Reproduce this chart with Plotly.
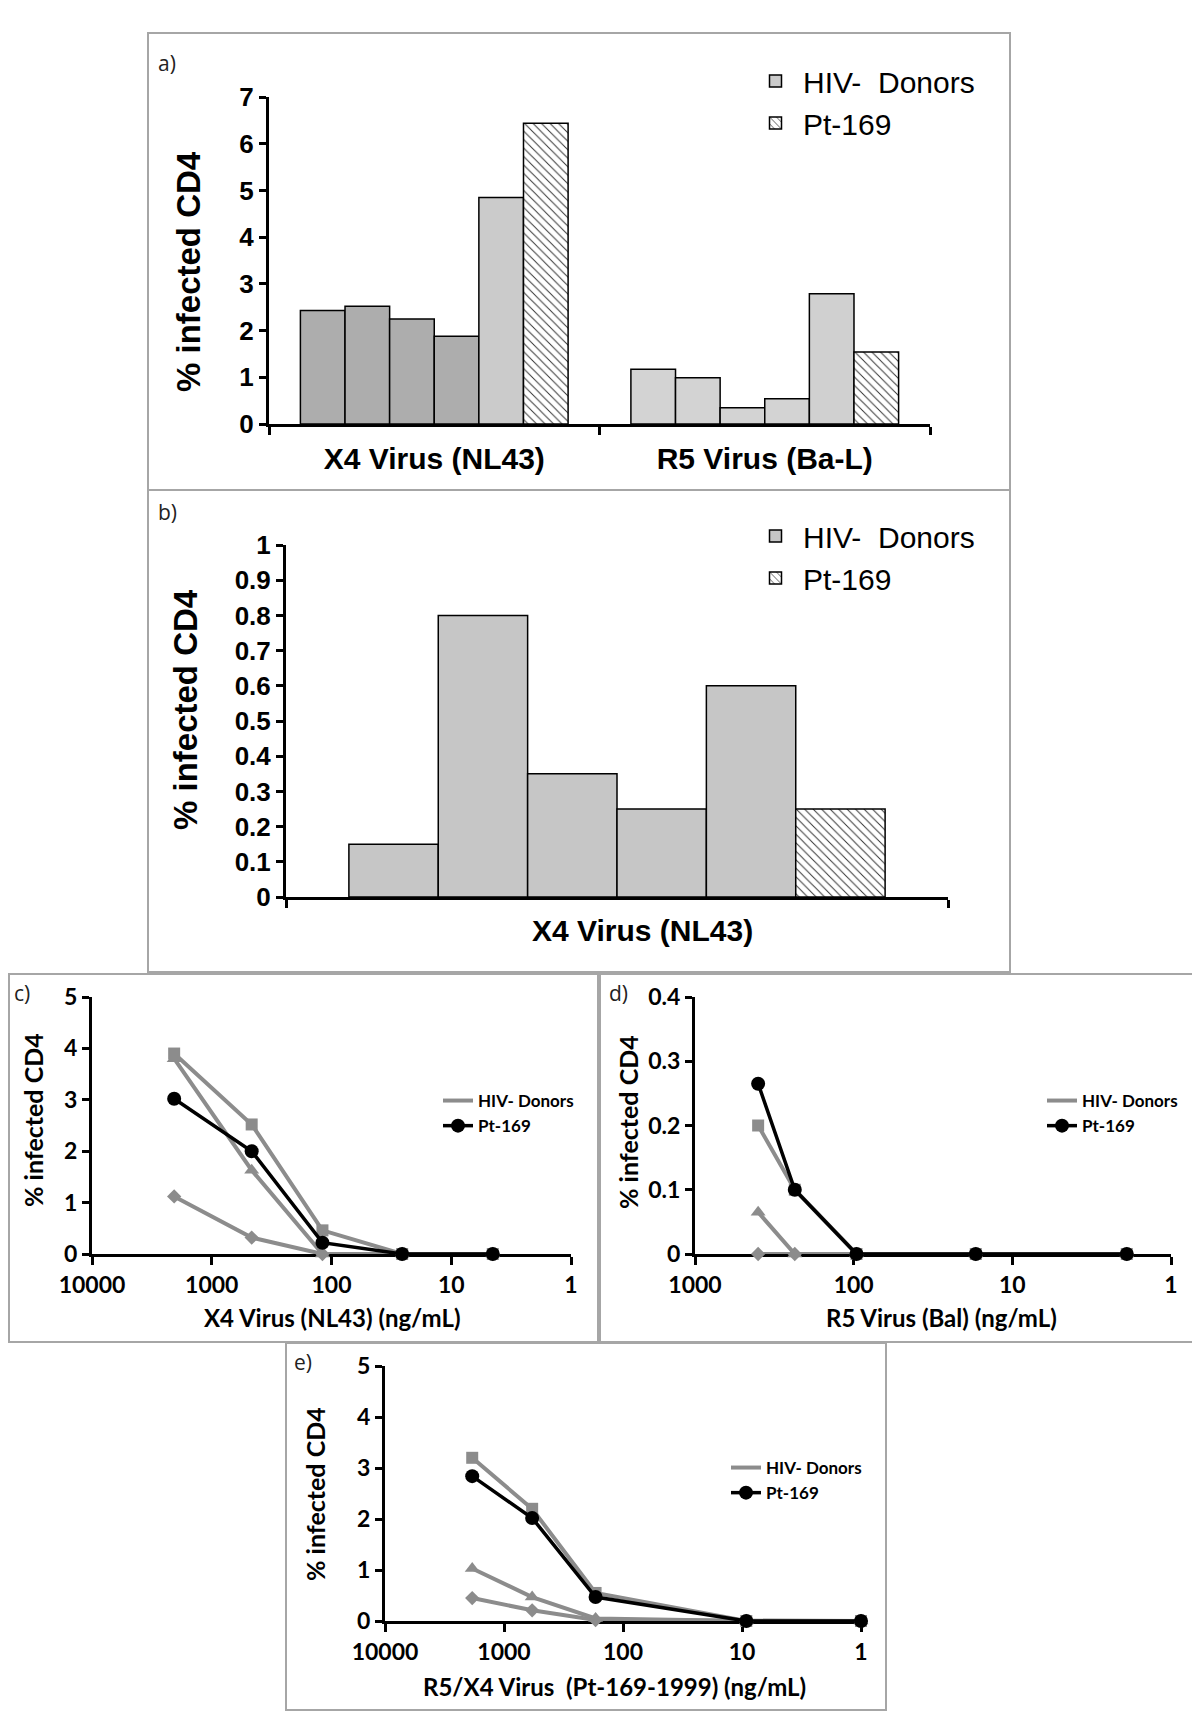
import plotly.graph_objects as go

W, H = 1200, 1735
OFF = 8  # page body margin compensation
def px(x): return (x - OFF) / W
def py(y): return 1 - (y - OFF) / H

# ---------------- data ----------------
# Panel a
a_categories = ["X4 Virus (NL43)", "R5 Virus (Ba-L)"]
a_donor1 = [2.43, 1.17]
a_donor2 = [2.52, 0.99]
a_donor3 = [2.25, 0.35]
a_donor4 = [1.88, 0.54]
a_donor5 = [4.85, 2.79]
a_pt169 = [6.44, 1.54]

# Panel b
b_categories = ["X4 Virus (NL43)"]
b_donor1 = [0.15]
b_donor2 = [0.80]
b_donor3 = [0.35]
b_donor4 = [0.25]
b_donor5 = [0.60]
b_pt169 = [0.25]

# Panel c
c_conc = [2060, 464, 119, 25.7, 4.5]
c_donor_sq = [3.90, 2.52, 0.46, 0, 0]
c_donor_tri = [3.80, 1.63, 0, 0, 0]
c_donor_dia = [1.12, 0.32, 0, 0, 0]
c_pt169 = [3.02, 2.00, 0.22, 0, 0]

# Panel d
d_conc = [400, 235, 96, 17, 1.9]
d_donor_sq = [0.20, 0.10, 0, 0, 0]
d_donor_tri = [0.065, 0, 0, 0, 0]
d_donor_dia = [0, 0, 0, 0, 0]
d_pt169 = [0.265, 0.10, 0, 0, 0]

# Panel e
e_conc = [1850, 580, 170, 9.2, 1.0]
e_donor_sq = [3.20, 2.20, 0.55, 0, 0]
e_donor_tri = [1.03, 0.47, 0.05, 0, 0]
e_donor_dia = [0.45, 0.21, 0.02, 0, 0]
e_pt169 = [2.84, 2.02, 0.47, 0, 0]

log_tickvals = [10000, 1000, 100, 10, 1]
log_ticktext = ["10000", "1000", "100", "10", "1"]
d_tickvals = [1000, 100, 10, 1]
d_ticktext = ["1000", "100", "10", "1"]

# ---------------- styles ----------------
NARROW = "Liberation Sans Narrow, Arial Narrow, Liberation Sans, Arial"
ARIAL = "Liberation Sans, Arial"
CAL = "Lato, Carlito, Open Sans"
GRAY = "#8c8c8c"

fig = go.Figure()

def pt_marker():
    return dict(color="white",
                pattern=dict(shape="\\", fgcolor="#333333", bgcolor="white", size=6, solidity=0.16),
                line=dict(color="black", width=1.5))

# ---- Panel a bars ----
a_donors = [a_donor1, a_donor2, a_donor3, a_donor4, a_donor5]
a_cols = [["#adadad", "#d3d3d3"]] * 4 + [["#cbcbcb", "#d0d0d0"]]
for i, vals in enumerate(a_donors):
    fig.add_trace(go.Bar(x=a_categories, y=vals, xaxis="x", yaxis="y",
                         marker=dict(color=a_cols[i], line=dict(color="black", width=1.5)),
                         name="HIV-\u00a0 Donors", legend="legend", legendgroup="a1",
                         showlegend=(i == 4)))
fig.add_trace(go.Bar(x=a_categories, y=a_pt169, xaxis="x", yaxis="y", marker=pt_marker(),
                     name="Pt-169", legend="legend", legendgroup="a2", showlegend=True))

# ---- Panel b bars ----
b_donors = [b_donor1, b_donor2, b_donor3, b_donor4, b_donor5]
for i, vals in enumerate(b_donors):
    fig.add_trace(go.Bar(x=b_categories, y=vals, xaxis="x2", yaxis="y2",
                         marker=dict(color="#c6c6c6", line=dict(color="black", width=1.5)),
                         name="HIV-\u00a0 Donors", legend="legend2", legendgroup="b1",
                         showlegend=(i == 0)))
fig.add_trace(go.Bar(x=b_categories, y=b_pt169, xaxis="x2", yaxis="y2", marker=pt_marker(),
                     name="Pt-169", legend="legend2", legendgroup="b2", showlegend=True))

# ---- Line panels ----
def add_line_panel(conc, sq, tri, dia, pt, xa, ya, leg):
    for vals, sym, size in [(dia, "diamond", 11), (tri, "triangle-up", 13), (sq, "square", 12)]:
        fig.add_trace(go.Scatter(x=conc, y=vals, xaxis=xa, yaxis=ya, mode="lines+markers",
                                 line=dict(color=GRAY, width=4),
                                 marker=dict(symbol=sym, size=size, color=GRAY),
                                 cliponaxis=False, showlegend=False, legend=leg))
    fig.add_trace(go.Scatter(x=[None], y=[None], xaxis=xa, yaxis=ya, mode="lines",
                             line=dict(color=GRAY, width=4), name="HIV- Donors",
                             legend=leg, legendgroup=leg + "g1", showlegend=True))
    fig.add_trace(go.Scatter(x=conc, y=pt, xaxis=xa, yaxis=ya, mode="lines+markers",
                             line=dict(color="black", width=3.5),
                             marker=dict(symbol="circle", size=14, color="black"),
                             cliponaxis=False, name="Pt-169", legend=leg,
                             legendgroup=leg + "g2", showlegend=True))

add_line_panel(c_conc, c_donor_sq, c_donor_tri, c_donor_dia, c_pt169, "x3", "y3", "legend3")
add_line_panel(d_conc, d_donor_sq, d_donor_tri, d_donor_dia, d_pt169, "x4", "y4", "legend4")
add_line_panel(e_conc, e_donor_sq, e_donor_tri, e_donor_dia, e_pt169, "x5", "y5", "legend5")

# ---------------- axes ----------------
def bar_xaxis(x0, x1, anchor, showlabels=True):
    return dict(domain=[px(x0), px(x1)], anchor=anchor, type="category", automargin=False,
                tickson="boundaries", ticks="outside", ticklen=8, tickwidth=3,
                tickcolor="black", showline=True, linecolor="black", linewidth=3,
                showgrid=False, showticklabels=showlabels, ticklabelstandoff=6,
                tickfont=dict(family=ARIAL, size=30, color="black", weight="bold"))

def bar_yaxis(y0, y1, anchor, rng, dtick):
    return dict(domain=[py(y1), py(y0)], anchor=anchor, range=rng, dtick=dtick, automargin=False,
                ticks="outside", ticklen=7, tickwidth=3, tickcolor="black",
                showline=True, linecolor="black", linewidth=3, showgrid=False, zeroline=False,
                tickfont=dict(family=NARROW, size=26, color="black", weight="bold"))

def log_xaxis(x0, x1, anchor, rng, tv, tt):
    return dict(domain=[px(x0), px(x1)], anchor=anchor, type="log", range=rng, automargin=False,
                tickmode="array", tickvals=tv, ticktext=tt,
                ticks="outside", ticklen=8, tickwidth=3, tickcolor="black",
                showline=True, linecolor="black", linewidth=3, showgrid=False,
                zeroline=False, layer="below traces",
                tickfont=dict(family=CAL, size=23, color="black", weight="bold"))

def line_yaxis(y0, y1, anchor, rng, dtick):
    return dict(domain=[py(y1), py(y0)], anchor=anchor, range=rng, dtick=dtick, automargin=False,
                ticks="outside", ticklen=7, tickwidth=3, tickcolor="black",
                showline=True, linecolor="black", linewidth=3, showgrid=False,
                zeroline=False, layer="below traces",
                tickfont=dict(family=CAL, size=23, color="black", weight="bold"))

layout = dict(
    template="none", autosize=False,
    width=W, height=H, margin=dict(l=0, r=0, t=0, b=0, pad=0, autoexpand=False),
    paper_bgcolor="white", plot_bgcolor="rgba(0,0,0,0)",
    barmode="group", bargap=0.19, bargroupgap=0,
    xaxis=bar_xaxis(269, 930, "y"),
    yaxis=bar_yaxis(97, 424, "x", [0, 7], 1),
    xaxis2=bar_xaxis(286, 948, "y2", showlabels=False),
    yaxis2=bar_yaxis(545, 897, "x2", [0, 1], 0.1),
    xaxis3=log_xaxis(92, 571, "y3", [4, 0], log_tickvals, log_ticktext),
    yaxis3=line_yaxis(997, 1254, "x3", [0, 5], 1),
    xaxis4=log_xaxis(695, 1171, "y4", [3, 0], d_tickvals, d_ticktext),
    yaxis4=line_yaxis(997, 1254, "x4", [0, 0.4], 0.1),
    xaxis5=log_xaxis(385, 861, "y5", [4, 0], log_tickvals, log_ticktext),
    yaxis5=line_yaxis(1366, 1621, "x5", [0, 5], 1),
)

def bar_legend(x, y):
    return dict(x=px(x), y=py(y), xanchor="left", yanchor="top", bgcolor="rgba(0,0,0,0)",
                font=dict(family=ARIAL, size=30, color="black"), tracegroupgap=12,
                traceorder="normal", itemwidth=45, borderwidth=0)

def line_legend(x, y):
    return dict(x=px(x), y=py(y), xanchor="left", yanchor="top", bgcolor="rgba(0,0,0,0)",
                font=dict(family=CAL, size=17, color="black", weight="bold"), tracegroupgap=17,
                traceorder="normal", itemwidth=30, borderwidth=0)

layout["legend"] = bar_legend(748, 55)
layout["legend2"] = bar_legend(748, 510)
layout["legend3"] = line_legend(438, 1083)
layout["legend4"] = line_legend(1042, 1083)
layout["legend5"] = line_legend(726, 1450)

fig.update_layout(**layout)

# ---------------- annotations ----------------
ann = []
def add_text(x, y, text, font, angle=0, xanchor="center"):
    ann.append(dict(x=px(x), y=py(y), xref="paper", yref="paper", text=text, showarrow=False,
                    textangle=angle, xanchor=xanchor, yanchor="middle", font=font))

big_title = dict(family=ARIAL, size=33, color="black", weight="bold")
cal_title = dict(family=CAL, size=25, color="black", weight="bold")
cal_x = dict(family=CAL, size=24, color="black", weight="bold")
panel_font = dict(family="Open Sans", size=21, color="#222222")

add_text(188, 272, "% infected CD4", big_title, angle=-90)
add_text(185, 710, "% infected CD4", big_title, angle=-90)
add_text(642, 930, "X4 Virus (NL43)", dict(family=ARIAL, size=30, color="black", weight="bold"))

add_text(33, 1120, "% infected CD4", cal_title, angle=-90)
add_text(628, 1122, "% infected CD4", cal_title, angle=-90)
add_text(315, 1494, "% infected CD4", cal_title, angle=-90)

add_text(332, 1317, "X4 Virus (NL43) (ng/mL)", cal_x)
add_text(941, 1317, "R5 Virus (Bal) (ng/mL)", cal_x)
add_text(614, 1686, "R5/X4 Virus\u00a0 (Pt-169-1999) (ng/mL)", cal_x)

add_text(156, 63, "a)", panel_font, xanchor="left")
add_text(156, 512, "b)", panel_font, xanchor="left")
add_text(12, 993, "c)", panel_font, xanchor="left")
add_text(607, 993, "d)", panel_font, xanchor="left")
add_text(292, 1362, "e)", panel_font, xanchor="left")

fig.update_layout(annotations=ann)

# ---------------- panel frames ----------------
boxes = [(148, 33, 1010, 490), (148, 490, 1010, 972), (9, 974, 598, 1342),
         (600, 974, 1206, 1342), (286, 1343, 886, 1710)]
shapes = []
for x0, y0, x1, y1 in boxes:
    shapes.append(dict(type="rect", xref="paper", yref="paper",
                       x0=px(x0), x1=px(x1), y0=py(y1), y1=py(y0),
                       line=dict(color="#a6a6a6", width=2), layer="below"))
fig.update_layout(shapes=shapes)

fig.write_html("out.html")
